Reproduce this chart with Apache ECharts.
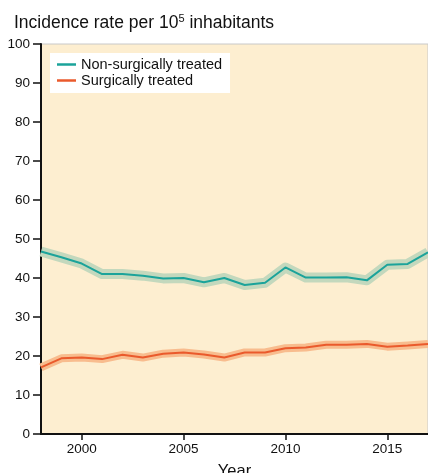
<!DOCTYPE html>
<html>
<head>
<meta charset="utf-8">
<script src="https://cdn.jsdelivr.net/npm/echarts@6/dist/echarts.min.js"></script>
<style>
html, body { margin: 0; padding: 0; background: #fff; }
#main { width: 428px; height: 473px; }
</style>
</head>
<body>
<div id="main"></div>
<script>
// years on x
var years = [1998, 1999, 2000, 2001, 2002, 2003, 2004, 2005, 2006, 2007, 2008, 2009, 2010, 2011, 2012, 2013, 2014, 2015, 2016, 2017];
var nonSurgical = [46.8, 45.3, 43.7, 41.0, 41.0, 40.6, 39.9, 40.0, 38.9, 40.0, 38.2, 38.8, 42.7, 40.1, 40.1, 40.2, 39.4, 43.4, 43.6, 46.6];
var surgical = [17.1, 19.4, 19.6, 19.2, 20.3, 19.6, 20.6, 20.9, 20.4, 19.6, 20.9, 20.9, 22.0, 22.2, 22.9, 22.9, 23.1, 22.4, 22.7, 23.1];
var yearTicks = [2000, 2005, 2010, 2015];
var names = ['Non-surgically treated', 'Surgically treated'];

function pairs(vals) {
	var out = [];
	for (var i = 0; i < years.length; i++) {
		out.push([years[i], vals[i]]);
	}
	return out;
}

var chart = echarts.init(document.getElementById('main'));
var option = {
	animation: false,
	textStyle: { fontFamily: 'Liberation Sans, Arial, sans-serif' },
	title: {
		text: 'Incidence rate per 10{sup|5} inhabitants',
		left: 9,
		top: 8,
		textStyle: {
			fontSize: 17.5,
			fontWeight: 'normal',
			color: '#111',
			rich: {
				sup: { fontSize: 11, verticalAlign: 'top', padding: [0, 0, 9, 0], color: '#111' }
			}
		}
	},
	legend: {
		data: names,
		orient: 'vertical',
		left: 50,
		top: 53,
		backgroundColor: '#fff',
		padding: [4, 8, 5, 7],
		itemGap: 1,
		itemWidth: 19,
		itemHeight: 2.5,
		icon: 'rect',
		textStyle: { fontSize: 14.5, color: '#111' }
	},
	grid: {
		left: 41,
		right: 0,
		top: 44,
		bottom: 39,
		outerBoundsMode: 'none',
		containLabel: false,
		show: true,
		backgroundColor: '#fdeed0',
		borderColor: '#c8c8c8',
		borderWidth: 1
	},
	xAxis: {
		type: 'value',
		min: 1998,
		max: 2017,
		name: 'Year',
		nameLocation: 'middle',
		nameGap: 29,
		nameTextStyle: { fontSize: 16.5, color: '#111' },
		splitLine: { show: false },
		axisLine: { lineStyle: { color: '#111', width: 2 } },
		axisTick: { customValues: yearTicks, length: 6, lineStyle: { color: '#111', width: 1.5 } },
		axisLabel: {
			customValues: yearTicks,
			fontSize: 13.5,
			color: '#111',
			margin: 8,
			formatter: function (v) { return String(v); }
		}
	},
	yAxis: {
		type: 'value',
		min: 0,
		max: 100,
		interval: 10,
		splitLine: { show: false },
		axisLine: { show: true, lineStyle: { color: '#111', width: 2 } },
		axisTick: { show: true, length: 8, lineStyle: { color: '#111', width: 1.5 } },
		axisLabel: { fontSize: 13.5, color: '#111', margin: 11 }
	},
	series: [
		{
			name: 'band1',
			type: 'line',
			data: pairs(nonSurgical),
			symbol: 'none',
			silent: true,
			lineStyle: { color: '#c3d8bd', width: 10, join: 'round' },
			z: 1
		},
		{
			name: 'band2',
			type: 'line',
			data: pairs(surgical),
			symbol: 'none',
			silent: true,
			lineStyle: { color: '#f8bc8e', width: 8, join: 'round' },
			z: 1
		},
		{
			name: names[0],
			type: 'line',
			data: pairs(nonSurgical),
			symbol: 'none',
			color: '#1ba39a',
			lineStyle: { color: '#1ba39a', width: 2 },
			z: 3
		},
		{
			name: names[1],
			type: 'line',
			data: pairs(surgical),
			symbol: 'none',
			color: '#ea5a2c',
			lineStyle: { color: '#ea5a2c', width: 2 },
			z: 3
		}
	]
};
chart.setOption(option);
</script>
</body>
</html>
